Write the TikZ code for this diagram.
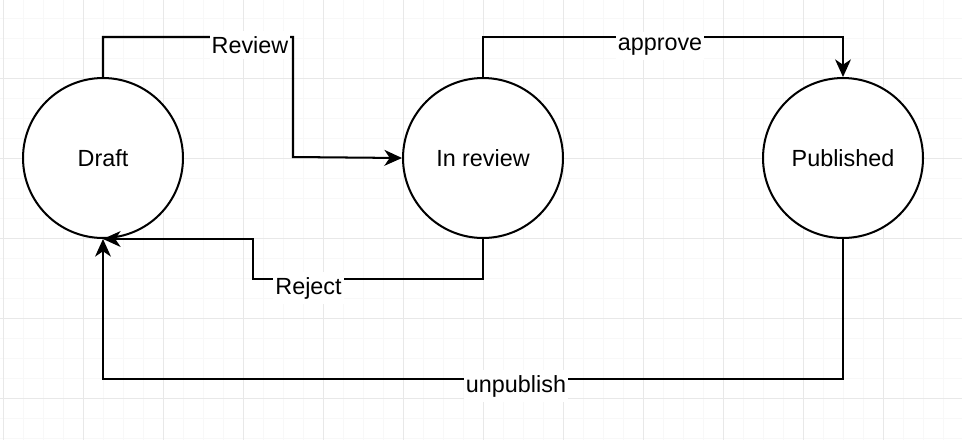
\documentclass[tikz,border=0pt]{standalone}
\usepackage{xcolor}
\usepackage{fontspec}
\setmainfont{Liberation Sans}
\usepackage{tikz}
\usetikzlibrary{positioning, arrows.meta}

\begin{document}
\begin{tikzpicture}[x=0.02cm, y=-0.02cm,
    every node/.style={font=\fontsize{13.3}{16}\selectfont},
    state/.style={draw, circle, line width=1.15pt, minimum size=3.2cm, inner sep=0pt, fill=white},
    flow/.style={line width=1.15pt, -{Stealth[length=10pt, width=9pt, inset=3pt]}},
    lbl/.style={fill=white, inner xsep=1.2pt, inner ysep=3pt, anchor=base}]
    % Define colors
    \definecolor{minorgrid}{RGB}{248, 248, 248}
    \definecolor{majorgrid}{RGB}{232, 232, 232}

    \useasboundingbox (0, 0) rectangle (962, 440);
    \fill[white] (0, 0) rectangle (962, 440);

    % Background grid
    \foreach \gx in {3, 23, ..., 943}
        \draw[minorgrid, line width=0.55pt] (\gx, 0) -- (\gx, 440);
    \foreach \gy in {18, 38, ..., 438}
        \draw[minorgrid, line width=0.55pt] (0, \gy) -- (962, \gy);
    \foreach \gx in {3, 83, ..., 883}
        \draw[majorgrid, line width=0.55pt] (\gx, 0) -- (\gx, 440);
    \foreach \gy in {78, 158, ..., 398}
        \draw[majorgrid, line width=0.55pt] (0, \gy) -- (962, \gy);

    % States
    \node[state] (draft) at (103, 158) {Draft};
    \node[state] (review) at (483, 158) {In review};
    \node[state] (published) at (843, 158) {Published};

    % Draft to In review
    \draw[flow] (draft.north) -- ++(0, -40) -- ++(190, 0) -- ++(0, 120) -- (review.west);
    \node[lbl] (lreview) at (250, 53) {Review};

    % In review to Published
    \draw[flow] (review.north) -- ++(0, -40) -- ++(360, 0) -- (published.north);
    \node[lbl] (lapprove) at (660, 50) {approve};

    % In review back to Draft
    \draw[flow] (review.south) -- ++(0, 40) -- ++(-230, 0) -- ++(0, -40) -- (draft.south);
    \node[lbl] (lreject) at (308.5, 294) {Reject};

    % Published back to Draft
    \draw[flow] (published.south) -- ++(0, 140) -- ++(-740, 0) -- (draft.south);
    \node[lbl] (lunpublish) at (516, 392) {unpublish};

\end{tikzpicture}
\end{document}
